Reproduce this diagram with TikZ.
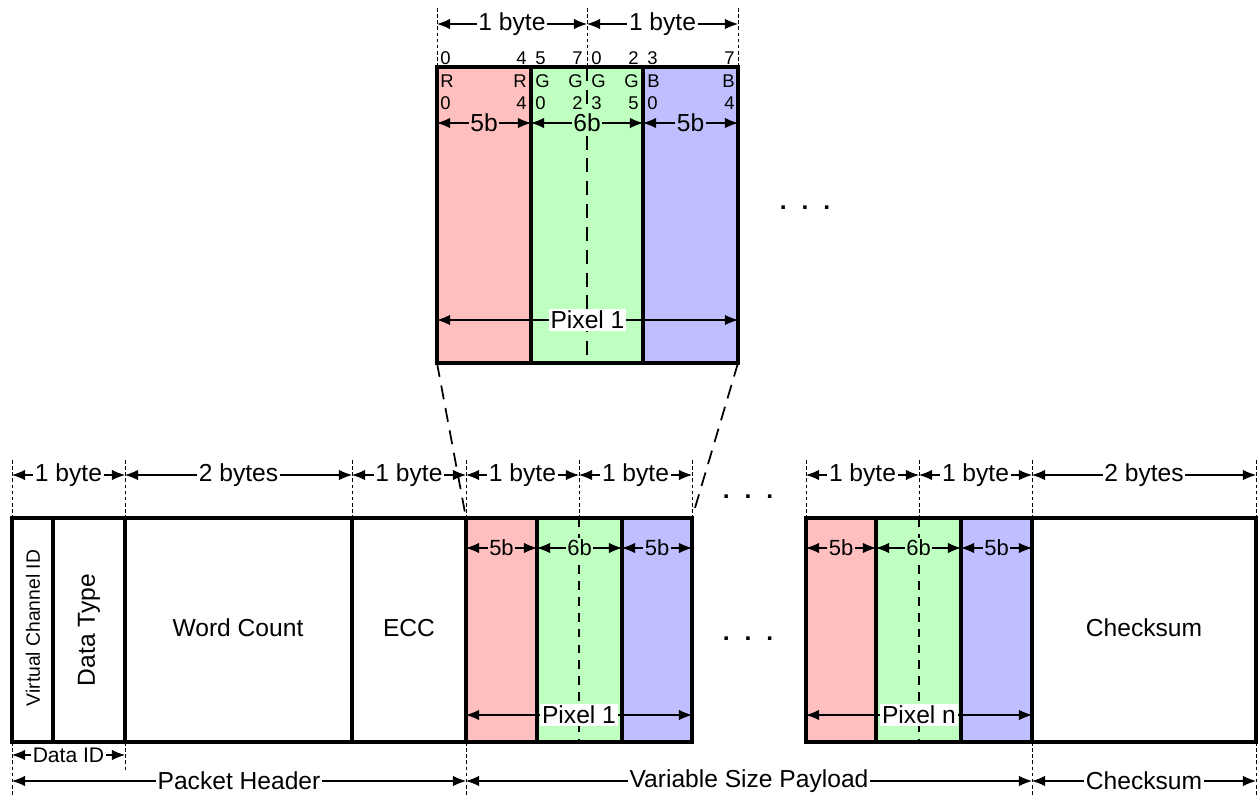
\documentclass[tikz,border=0pt]{standalone}
\usepackage{fontspec}
\setmainfont{Liberation Sans}
\usetikzlibrary{arrows.meta}
\definecolor{pixr}{RGB}{255,191,191}
\definecolor{pixg}{RGB}{191,255,191}
\definecolor{pixb}{RGB}{191,191,255}

\begin{document}
\begin{tikzpicture}[>={Latex[length=7.5pt,width=6pt]}, x=0.02cm, y=-0.02cm,
  font=\fontsize{14}{16}\selectfont,
  cell/.style={draw, line width=2.2pt},
  guide/.style={dash pattern=on 2pt off 1.5pt, line width=0.4pt},
  midline/.style={dash pattern=on 8pt off 5pt, line width=1.4pt},
  midshort/.style={dash pattern=on 5pt off 4pt, line width=1.6pt},
  zoomline/.style={dash pattern=on 8pt off 5pt, line width=1pt},
  dim/.style={<->, line width=0.6pt},
  lbl/.style={fill=white, inner sep=1pt},
  bit/.style={inner sep=0pt, font=\fontsize{10.5}{12}\selectfont},
  dots/.style={font=\fontsize{14}{16}\selectfont\bfseries}]
\useasboundingbox (0,0) rectangle (1259,796);

% one pixel, magnified
\draw[cell, fill=pixr] (437,67) rectangle (531,363);
\draw[cell, fill=pixg] (531,67) rectangle (643,363);
\draw[cell, fill=pixb] (643,67) rectangle (738,363);
\draw[midline] (587,67) -- (587,363);
\draw[guide] (437,8) -- (437,67) (587,8) -- (587,67) (738,8) -- (738,67);

\node[bit, anchor=west, name=n_r0] at (440,58){0};
\node[bit, anchor=east, name=n_r4] at (527,58){4};
\node[bit, anchor=west, name=n_g5] at (535,58){5};
\node[bit, anchor=east, name=n_g7] at (583,58){7};
\node[bit, anchor=west, name=n_g0] at (591,58){0};
\node[bit, anchor=east, name=n_g2] at (639,58){2};
\node[bit, anchor=west, name=n_b3] at (647,58){3};
\node[bit, anchor=east, name=n_b7] at (735,58){7};
\node[bit, anchor=west, name=r_0] at (440,81){R};
\node[bit, anchor=east, name=r_4] at (527,81){R};
\node[bit, anchor=west, name=g_0] at (535,81){G};
\node[bit, anchor=east, name=g_2] at (583,81){G};
\node[bit, anchor=west, name=g_3] at (591,81){G};
\node[bit, anchor=east, name=g_5] at (639,81){G};
\node[bit, anchor=west, name=b_0] at (647,81){B};
\node[bit, anchor=east, name=b_4] at (735,81){B};
\node[bit, anchor=west, name=r_0i] at (440,103){0};
\node[bit, anchor=east, name=r_4i] at (527,103){4};
\node[bit, anchor=west, name=g_0i] at (535,103){0};
\node[bit, anchor=east, name=g_2i] at (583,103){2};
\node[bit, anchor=west, name=g_3i] at (591,103){3};
\node[bit, anchor=east, name=g_5i] at (639,103){5};
\node[bit, anchor=west, name=b_0i] at (647,103){0};
\node[bit, anchor=east, name=b_4i] at (735,103){4};

\coordinate (top_a) at (437,24);
\coordinate (top_b) at (587,24);
\coordinate (top_c) at (738,24);
\coordinate (top_r) at (437,123);
\coordinate (top_g) at (531,123);
\coordinate (top_bl) at (643,123);
\coordinate (top_e) at (738,123);
\coordinate (top_p0) at (437,320);
\coordinate (top_p1) at (738,320);
\draw(top_a) edge[dim]node[lbl]{1 byte}(top_b);
\draw(top_b) edge[dim]node[lbl]{1 byte}(top_c);
\draw(top_r) edge[dim]node[lbl, fill=pixr]{5b}(top_g);
\draw(top_g) edge[dim]node[lbl, fill=pixg]{6b}(top_bl);
\draw(top_bl) edge[dim]node[lbl, fill=pixb]{5b}(top_e);
\draw(top_p0) edge[dim]node[lbl]{Pixel 1}(top_p1);
\node[name=dots_top, dots] at (805,208){.\hspace{0.3cm}.\hspace{0.3cm}.};

% zoom lines down to the packet
\coordinate (zoom_tl) at (437,363);
\coordinate (zoom_tr) at (738,363);
\coordinate (zoom_bl) at (466,518);
\coordinate (zoom_br) at (692,518);
\draw[zoomline](zoom_tl) -- (zoom_bl);
\draw[zoomline](zoom_tr) -- (zoom_br);

% the packet
\draw[cell] (12,518) rectangle (53,742);
\draw[cell] (53,518) rectangle (125,742);
\draw[cell] (125,518) rectangle (352,742);
\draw[cell] (352,518) rectangle (466,742);
\draw[cell, fill=pixr] (466,518) rectangle (537,742);
\draw[cell, fill=pixg] (537,518) rectangle (622,742);
\draw[cell, fill=pixb] (622,518) rectangle (692,742);
\draw[cell, fill=pixr] (806,518) rectangle (876,742);
\draw[cell, fill=pixg] (876,518) rectangle (961,742);
\draw[cell, fill=pixb] (961,518) rectangle (1032,742);
\draw[cell] (1032,518) rectangle (1256,742);
\draw[midshort] (579,518) -- (579,742);
\draw[midshort] (919,518) -- (919,742);
\draw[guide] (12,460) -- (12,518) (125,460) -- (125,518) (352,460) -- (352,518)
  (466,460) -- (466,518) (579,460) -- (579,518) (692,460) -- (692,518)
  (806,460) -- (806,518) (919,460) -- (919,518) (1032,460) -- (1032,518)
  (1256,460) -- (1256,518);
\draw[guide] (12,742) -- (12,796) (125,742) -- (125,770) (466,742) -- (466,796)
  (1032,742) -- (1032,796) (1256,742) -- (1256,796);

\node[name=vc_id, rotate=90, font=\fontsize{11}{13}\selectfont] at (33,628){Virtual Channel ID};
\node[name=data_type, rotate=90] at (89,630){Data Type};
\node[name=word_count] at (238,628){Word Count};
\node[name=ecc] at (409,628){ECC};
\node[name=checksum] at (1144,628){Checksum};
\node[name=dots_a, dots] at (748,497){.\hspace{0.3cm}.\hspace{0.3cm}.};
\node[name=dots_b, dots] at (748,639){.\hspace{0.3cm}.\hspace{0.3cm}.};

\coordinate (b_0) at (12,475);
\coordinate (b_1) at (125,475);
\coordinate (b_2) at (352,475);
\coordinate (b_3) at (466,475);
\coordinate (b_4) at (579,475);
\coordinate (b_5) at (692,475);
\coordinate (b_6) at (806,475);
\coordinate (b_7) at (919,475);
\coordinate (b_8) at (1032,475);
\coordinate (b_9) at (1256,475);
\draw(b_0) edge[dim]node[lbl]{1 byte}(b_1);
\draw(b_1) edge[dim]node[lbl]{2 bytes}(b_2);
\draw(b_2) edge[dim]node[lbl]{1 byte}(b_3);
\draw(b_3) edge[dim]node[lbl]{1 byte}(b_4);
\draw(b_4) edge[dim]node[lbl]{1 byte}(b_5);
\draw(b_6) edge[dim]node[lbl]{1 byte}(b_7);
\draw(b_7) edge[dim]node[lbl]{1 byte}(b_8);
\draw(b_8) edge[dim]node[lbl]{2 bytes}(b_9);

\coordinate (p1_r) at (466,548);
\coordinate (p1_g) at (537,548);
\coordinate (p1_b) at (622,548);
\coordinate (p1_e) at (692,548);
\coordinate (pn_r) at (806,548);
\coordinate (pn_g) at (876,548);
\coordinate (pn_b) at (961,548);
\coordinate (pn_e) at (1032,548);
\draw(p1_r) edge[dim]node[lbl, fill=pixr, font=\fontsize{12.5}{14}\selectfont]{5b}(p1_g);
\draw(p1_g) edge[dim]node[lbl, fill=pixg, font=\fontsize{12.5}{14}\selectfont]{6b}(p1_b);
\draw(p1_b) edge[dim]node[lbl, fill=pixb, font=\fontsize{12.5}{14}\selectfont]{5b}(p1_e);
\draw(pn_r) edge[dim]node[lbl, fill=pixr, font=\fontsize{12.5}{14}\selectfont]{5b}(pn_g);
\draw(pn_g) edge[dim]node[lbl, fill=pixg, font=\fontsize{12.5}{14}\selectfont]{6b}(pn_b);
\draw(pn_b) edge[dim]node[lbl, fill=pixb, font=\fontsize{12.5}{14}\selectfont]{5b}(pn_e);

\coordinate (px1_a) at (466,715);
\coordinate (px1_b) at (692,715);
\coordinate (pxn_a) at (806,715);
\coordinate (pxn_b) at (1032,715);
\draw(px1_a) edge[dim]node[lbl]{Pixel 1}(px1_b);
\draw(pxn_a) edge[dim]node[lbl]{Pixel n}(pxn_b);

\coordinate (id_a) at (12,755);
\coordinate (id_b) at (125,755);
\coordinate (hd_a) at (12,781);
\coordinate (hd_b) at (466,781);
\coordinate (pl_b) at (1032,781);
\coordinate (cs_b) at (1256,781);
\draw(id_a) edge[dim]node[lbl, font=\fontsize{12}{14}\selectfont]{Data ID}(id_b);
\draw(hd_a) edge[dim]node[lbl]{Packet Header}(hd_b);
\draw(hd_b) edge[dim]node[lbl]{Variable Size Payload}(pl_b);
\draw(pl_b) edge[dim]node[lbl]{Checksum}(cs_b);
\end{tikzpicture}
\end{document}
